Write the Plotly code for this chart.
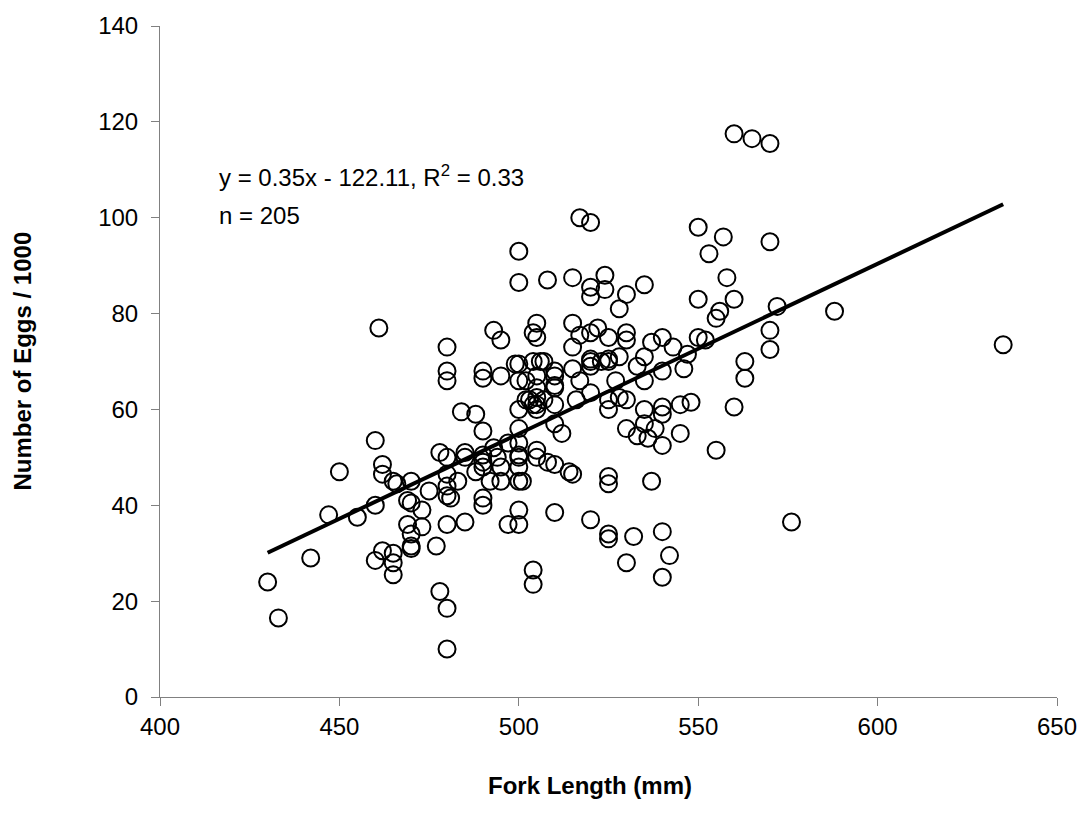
import plotly.graph_objects as go

fork_length = [
    430, 433, 442, 447, 450, 455, 460, 460, 460, 461, 462, 462, 462, 465, 465, 465, 465, 466, 469, 469,
    470, 470, 470, 470, 470, 473, 473, 475, 477, 478, 478,
    480, 480, 480, 480, 480, 480, 480, 480, 480, 480, 481, 483, 484, 485, 485, 485, 488, 488,
    490, 490, 490, 490, 490, 490, 490, 492, 493, 493, 494, 495, 495, 495, 495, 497, 497, 499,
    500, 500, 500, 500, 500, 500, 500, 500, 500, 500, 500, 500, 501, 502, 502, 503, 504, 504, 504, 504, 504,
    505, 505, 505, 505, 505, 505, 505, 505, 506, 507, 507, 508, 508,
    510, 510, 510, 510, 510, 510, 510, 512, 514, 515, 515, 515, 515, 515, 516, 517, 517, 517,
    520, 520, 520, 520, 520, 520, 520, 520, 522, 523, 524, 524, 525, 525, 525, 525, 525, 525, 525, 525, 527, 528, 528, 528,
    530, 530, 530, 530, 530, 530, 532, 533, 533, 535, 535, 535, 535, 535, 536, 537, 537, 538,
    540, 540, 540, 540, 540, 540, 540, 542, 543, 545, 545, 546, 547, 548,
    550, 550, 550, 552, 553, 555, 555, 556, 557, 558, 560, 560, 560, 563, 563, 565, 570, 570, 570, 570, 572, 576, 588, 635,
    500, 505, 510, 525, 490, 520,
]
eggs_thousands = [
    24, 16.5, 29, 38, 47, 37.5, 53.5, 40, 28.5, 77, 48.5, 46.5, 30.5, 45, 30, 28, 25.5, 44.5, 41, 36,
    45, 40.5, 34, 31.5, 31, 39, 35.5, 43, 31.5, 51, 22,
    73, 68, 66, 50, 46.5, 44, 42, 36, 18.5, 10, 41.5, 45, 59.5, 51, 50, 36.5, 59, 47,
    68, 66.5, 55.5, 50.5, 48, 41.5, 40, 45, 76.5, 52, 50, 74.5, 67, 48, 45, 53, 36, 69.5,
    93, 86.5, 69.5, 66, 60, 56, 53, 50.5, 48, 45, 39, 36, 45, 66, 62, 62, 76, 70, 61, 26.5, 23.5,
    78, 75, 67, 64.5, 62.5, 60, 51.5, 50, 70, 70, 62, 87, 49,
    68, 67, 64.5, 61, 57, 48.5, 38.5, 55, 47, 87.5, 78, 73, 68.5, 46.5, 62, 100, 75.5, 66,
    99, 85.5, 83.5, 76, 70, 69, 63.5, 37, 77, 70, 88, 85, 75, 70, 62, 60, 46, 44.5, 34, 33, 66, 81, 71, 62.5,
    84, 76, 74.5, 62, 56, 28, 33.5, 69, 54.5, 86, 71, 66, 60, 57, 54, 74, 45, 56,
    75, 68, 60.5, 59, 52.5, 34.5, 25, 29.5, 73, 61, 55, 68.5, 71.5, 61.5,
    98, 83, 75, 74.5, 92.5, 79, 51.5, 80.5, 96, 87.5, 117.5, 83, 60.5, 70, 66.5, 116.5, 115.5, 95, 76.5, 72.5, 81.5, 36.5, 80.5, 73.5,
    50, 61, 65, 70.5, 49, 70.5,
]

trend_x = [430, 635]
trend_y = [30.1, 102.8]

x_ticks = [400, 450, 500, 550, 600, 650]
y_ticks = [0, 20, 40, 60, 80, 100, 120, 140]

equation_text = "y = 0.35x - 122.11, R<sup>2</sup> = 0.33"
n_text = "n = 205"
x_title = "<b>Fork Length (mm)</b>"
y_title = "<b>Number of Eggs / 1000</b>"

FONT = "Liberation Sans, Arial, sans-serif"

fig = go.Figure()
fig.add_trace(go.Scatter(
    x=fork_length, y=eggs_thousands, mode="markers",
    marker=dict(symbol="circle-open", size=17, color="black", line=dict(width=2, color="black")),
    showlegend=False, hoverinfo="x+y",
))
fig.add_trace(go.Scatter(
    x=trend_x, y=trend_y, mode="lines",
    line=dict(color="black", width=4),
    showlegend=False, hoverinfo="skip",
))

fig.update_layout(
    width=1089, height=823,
    margin=dict(l=160, r=27, t=21, b=126),
    paper_bgcolor="white", plot_bgcolor="white",
    font=dict(family=FONT, size=24, color="black"),
    xaxis=dict(
        range=[400, 650], tickvals=x_ticks, ticks="outside", ticklen=8, tickcolor="#808080",
        showline=True, linecolor="#808080", linewidth=1, showgrid=False, zeroline=False,
        tickfont=dict(size=24), ticklabelstandoff=0,
    ),
    yaxis=dict(
        range=[0, 140], tickvals=y_ticks, ticks="outside", ticklen=8, tickcolor="#808080",
        showline=True, linecolor="#808080", linewidth=1, showgrid=False, zeroline=False,
        tickfont=dict(size=24), ticklabelstandoff=8,
    ),
    annotations=[
        dict(x=415.8, y=108.7, xref="x", yref="y", text=equation_text, showarrow=False,
             xanchor="left", yanchor="middle", font=dict(size=24)),
        dict(x=415.8, y=100.4, xref="x", yref="y", text=n_text, showarrow=False,
             xanchor="left", yanchor="middle", font=dict(size=24)),
        dict(x=0.479, y=0, xref="paper", yref="paper", yshift=-88, text=x_title,
             showarrow=False, xanchor="center", yanchor="middle", font=dict(size=24)),
        dict(x=0, y=0.5, xref="paper", yref="paper", xshift=-138, text=y_title,
             showarrow=False, xanchor="center", yanchor="middle", textangle=-90,
             font=dict(size=24)),
    ],
)

fig.write_html("out.html")
